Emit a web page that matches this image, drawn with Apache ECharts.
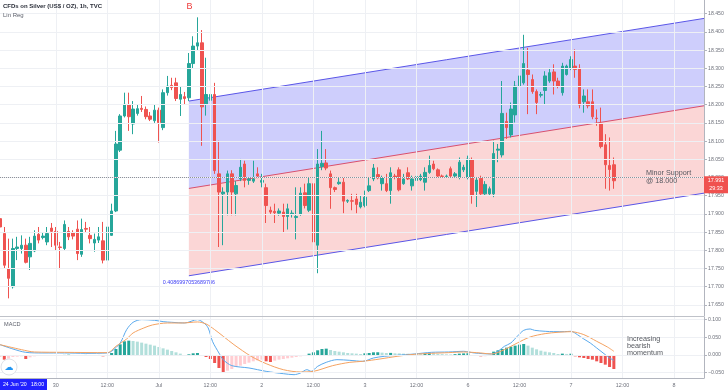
<!DOCTYPE html>
<html><head><meta charset="utf-8">
<script src="https://cdn.jsdelivr.net/npm/echarts@6/dist/echarts.min.js"></script>
<style>html,body{margin:0;padding:0;background:#fff}#c{width:728px;height:391px}</style>
</head><body><div id="c"></div>
<script>
// ---------- data ----------
const firstBar = -13; // hourly bar index of the first candle (0 = 30 Jun 00:00)
const opens = [17.887,17.846,17.750,17.700,17.805,17.805,17.814,17.782,17.798,17.844,17.835,17.823,17.861,
17.852,17.809,17.805,17.852,17.849,17.858,17.789,17.860,17.841,17.820,17.828,17.826,17.773,17.841,17.908,18.075,18.169,18.199,18.147,18.176,18.190,18.187,18.169,18.156,18.185,18.137,18.233,18.253,18.260,18.215,18.222,18.219,18.313,18.361,18.370,18.201,18.212,18.228,18.010,17.955,17.960,18.010,17.955,17.996,18.037,17.992,
17.990,18.010,17.987,17.972,17.910,17.907,17.902,17.905,17.893,17.899,17.890,17.899,17.958,17.910,17.983,17.814,18.030,18.040,18.010,17.972,17.983,17.987,17.935,17.936,17.941,17.919,17.923,17.964,17.996,18.008,17.983,17.983,17.964,18.004,18.021,17.983,18.013,17.977,17.992,17.994,17.987,18.014,18.037,18.021,18.004,18.003,18.024,18.004,18.001,18.021,18.001,18.048,17.962,17.998,17.955,17.955,17.955,18.075,18.062,18.154,18.117,18.172,18.251,18.260,18.295,18.269,18.236,18.226,18.239,18.265,18.290,18.265,18.233,18.283,18.301,18.306,18.300,18.208,18.208,18.208,18.163,18.147,18.090,18.033,18.035];
const closes = [17.864,17.759,17.723,17.805,17.809,17.814,17.767,17.819,17.839,17.828,17.839,17.846,17.852,
17.814,17.808,17.871,17.837,17.839,17.791,17.857,17.858,17.832,17.830,17.837,17.773,17.864,17.908,18.092,18.169,18.201,18.167,18.188,18.189,18.187,18.167,18.160,18.185,18.151,18.233,18.251,18.247,18.217,18.228,18.217,18.313,18.361,18.370,18.194,18.228,18.228,18.019,17.960,17.960,18.010,17.960,17.978,18.028,17.992,17.996,
17.996,18.004,17.992,17.923,17.905,17.903,17.908,17.893,17.914,17.902,17.893,17.957,17.923,17.983,17.823,18.037,18.039,18.026,17.972,17.967,17.987,17.935,17.937,17.935,17.926,17.932,17.946,17.977,18.026,17.999,17.999,17.964,18.013,18.000,17.966,17.996,17.996,17.996,18.003,18.004,18.014,18.033,18.024,18.004,18.003,18.004,18.004,18.010,18.042,18.028,18.051,17.951,17.993,17.955,17.981,17.969,18.066,18.078,18.176,18.137,18.188,18.251,18.279,18.313,18.283,18.236,18.206,18.228,18.279,18.288,18.265,18.251,18.306,18.306,18.324,18.297,18.199,18.224,18.197,18.167,18.162,18.085,18.035,18.022,17.991];
const lows = [17.855,17.750,17.668,17.695,17.773,17.791,17.764,17.746,17.795,17.819,17.830,17.814,17.809,
17.800,17.748,17.800,17.828,17.830,17.773,17.782,17.850,17.819,17.796,17.820,17.764,17.770,17.840,17.905,18.070,18.165,18.128,18.119,18.170,18.180,18.160,18.155,18.150,18.096,18.130,18.225,18.240,18.210,18.169,18.201,18.210,18.300,18.350,18.087,18.170,18.083,18.010,17.809,17.814,17.896,17.896,17.896,17.990,17.973,17.980,
17.985,17.998,17.973,17.875,17.900,17.875,17.895,17.848,17.857,17.890,17.830,17.895,17.915,17.905,17.782,17.737,18.020,18.020,17.914,17.960,17.980,17.902,17.930,17.910,17.902,17.915,17.918,17.960,17.990,17.995,17.964,17.960,17.928,17.995,17.962,17.980,17.993,17.964,17.990,17.990,17.964,18.010,18.020,18.000,18.000,18.000,18.000,18.000,17.995,18.015,17.995,17.928,17.919,17.950,17.950,17.950,17.946,18.042,18.055,18.106,18.110,18.151,18.245,18.255,18.174,18.230,18.174,18.220,18.201,18.260,18.228,18.245,18.225,18.280,18.295,18.274,18.190,18.178,18.190,18.160,18.142,18.080,17.969,17.964,17.969];
const highs = [17.928,17.864,17.832,17.832,17.837,17.841,17.832,17.837,17.855,17.864,17.850,17.864,17.875,
17.864,17.823,17.882,17.864,17.855,17.882,17.887,17.878,17.864,17.846,17.864,17.878,17.878,17.928,18.128,18.174,18.233,18.233,18.210,18.200,18.224,18.195,18.180,18.200,18.192,18.242,18.279,18.274,18.274,18.251,18.235,18.342,18.388,18.440,18.405,18.329,18.324,18.260,18.101,17.973,18.019,18.020,17.990,18.051,18.046,18.000,
18.046,18.028,18.010,17.983,17.920,17.928,17.915,17.928,17.928,17.910,17.973,17.973,17.983,18.001,18.001,18.078,18.128,18.078,18.019,17.975,18.001,18.001,17.940,17.955,17.955,17.951,17.964,18.001,18.037,18.028,18.005,18.010,18.028,18.010,18.028,18.010,18.028,18.005,18.010,18.010,18.028,18.060,18.046,18.025,18.008,18.008,18.030,18.015,18.055,18.035,18.060,18.055,18.001,18.005,17.990,17.975,18.101,18.092,18.265,18.178,18.206,18.265,18.283,18.392,18.356,18.283,18.242,18.235,18.292,18.301,18.311,18.274,18.315,18.310,18.333,18.352,18.311,18.242,18.242,18.242,18.187,18.192,18.119,18.110,18.055];

// MACD histogram, one value per candle
const macdHist = [-0.0038,-0.0132,-0.0104,-0.0057,-0.0047,-0.0038,-0.0113,-0.0066,-0.0038,-0.0028,-0.0019,-0.0009,-0.0009,
-0.0010,-0.0019,0.0003,0.0009,0.0002,-0.0019,-0.0004,0.0002,-0.0009,-0.0007,0.0001,-0.0038,-0.0012,0.0057,0.0170,0.0301,0.0386,0.0405,0.0396,0.0377,0.0349,0.0320,0.0292,0.0264,0.0226,0.0188,0.0151,0.0113,0.0075,0.0038,-0.0019,0.0019,0.0047,0.0057,-0.0019,-0.0057,-0.0113,-0.0226,-0.0367,-0.0490,-0.0443,-0.0396,-0.0339,-0.0301,-0.0254,-0.0217,
-0.0179,-0.0151,-0.0132,-0.0179,-0.0198,-0.0160,-0.0132,-0.0113,-0.0094,-0.0075,-0.0057,-0.0038,-0.0009,0.0038,0.0075,0.0132,0.0170,0.0179,0.0141,0.0113,0.0094,0.0075,0.0057,0.0047,0.0038,0.0028,0.0047,0.0057,0.0075,0.0077,0.0066,0.0057,0.0059,0.0047,0.0045,0.0038,0.0036,0.0028,0.0026,0.0025,0.0047,0.0049,0.0038,0.0028,0.0026,0.0019,0.0017,0.0024,0.0038,0.0045,0.0049,-0.0019,-0.0028,-0.0038,-0.0036,-0.0028,0.0094,0.0132,0.0170,0.0207,0.0236,0.0264,0.0292,0.0311,0.0264,0.0207,0.0160,0.0122,0.0094,0.0075,0.0057,0.0028,0.0038,0.0030,0.0036,-0.0038,-0.0066,-0.0085,-0.0113,-0.0132,-0.0179,-0.0226,-0.0273,-0.0339,-0.0396];

// MACD line and signal line, read at bar positions
const macdLineK = [-13,-10,-7,-3,2,7,12,13,15,16.5,18,20,23,25,27,30,33,34.5,35.5,36.5,38,39,41,45,49,53,55.5,57,58.5,59.5,61,63,65.5,68.5,71.5,74,76.5,79.5,83.5,87.5,91.5,95,97.5,101.5,103,104.5,106,107.5,109,110.5,111.5,114,116,118.5,120,121.5,123,124.5,126,128,129,130];
const macdLineV = [0.0292,0.0170,0.0075,0.0057,0.0057,0.0047,0.0057,0.0104,0.0339,0.0716,0.0923,0.0999,0.0980,0.0942,0.0923,0.0904,0.0999,0.0904,0.0763,0.0386,0.0057,-0.0132,-0.0301,-0.0367,-0.0462,-0.0528,-0.0556,-0.0509,-0.0415,-0.0462,-0.0320,-0.0207,-0.0132,-0.0151,-0.0179,-0.0085,-0.0038,-0.0009,0.0028,0.0075,0.0085,0.0104,0.0057,0.0028,0.0104,0.0245,0.0339,0.0528,0.0697,0.0735,0.0697,0.0669,0.0659,0.0659,0.0669,0.0575,0.0452,0.0339,0.0198,0.0009,-0.0085,-0.0151];
const signalK = [-13,-8,-5,2,12,14,16.5,18,20.5,22.5,26,29.5,33,35,37,39,41.5,45.5,49,53,57,60,64.5,68.5,71.5,75.5,79.5,83.5,87.5,91.5,95,99,101.5,104.5,107.5,110.5,114,117,120,123,126,128.5,130];
const signalV = [0.0292,0.0151,0.0085,0.0075,0.0066,0.0245,0.0452,0.0622,0.0763,0.0848,0.0904,0.0904,0.0933,0.0876,0.0716,0.0528,0.0292,-0.0038,-0.0245,-0.0415,-0.0480,-0.0462,-0.0301,-0.0207,-0.0179,-0.0113,-0.0038,0.0019,0.0047,0.0066,0.0085,0.0057,0.0028,0.0151,0.0339,0.0509,0.0603,0.0641,0.0659,0.0575,0.0386,0.0226,0.0104];

// Linear regression channel (bar positions and prices at both ends)
const chX = [31, 151];
const chUpper = [18.210, 18.437];
const chMid = [17.970, 18.197];
const chLower = [17.730, 17.957];
const regLabel = '0.4086997053689786';

const supportLevel = 18.000;
const lastPrice = 17.991;
const countdown = '29:33';

const priceTicks = [17.65,17.70,17.75,17.80,17.85,17.90,17.95,18.00,18.05,18.10,18.15,18.20,18.25,18.30,18.35,18.40,18.45];
const macdTicks = [-0.05, 0, 0.05, 0.10];
const timeTickPos = [0,12,24,36,48,60,72,84,96,108,120,132,144];
const timeTickLabels = ['30','12:00','Jul','12:00','2','12:00','3','12:00','6','12:00','7','12:00','8'];

// ---------- chart ----------
const FONT = 'Liberation Sans';
const AX = '#b2b5be', LBL = '#6f727c', GRIDC = '#eef0f4';
const XMIN = -13, XMAX = 151;
const candles = opens.map((o, i) => [firstBar + i, o, closes[i], lows[i], highs[i]]);
const histData = macdHist.map((v, i) => {
  const prev = i > 0 ? macdHist[i - 1] : v;
  let c;
  if (v >= 0) c = v >= prev ? '#26a69a' : '#b2dfdb';
  else c = v <= prev ? '#ef5350' : '#ffcdd2';
  return { value: [firstBar + i, v], itemStyle: { color: c } };
});
const gridLineMark = (key, vals) => ({
  silent: true, symbol: 'none', label: { show: false }, emphasis: { disabled: true },
  lineStyle: { color: GRIDC, type: 'solid', width: 1 },
  data: vals.map(v => ({ [key]: v }))
});

const chart = echarts.init(document.getElementById('c'), null, { renderer: 'canvas' });
chart.setOption({
  animation: false,
  backgroundColor: '#ffffff',
  grid: [
    { left: 0, right: 24, top: 0, height: 316 },
    { left: 0, right: 24, top: 317, height: 61 },
    { left: 0, right: 24, top: 0, height: 378 }
  ],
  xAxis: [
    { gridIndex: 0, type: 'value', min: XMIN, max: XMAX, show: false, splitLine: { show: false } },
    { gridIndex: 1, type: 'value', min: XMIN, max: XMAX, show: false, splitLine: { show: false } },
    { gridIndex: 2, type: 'value', min: XMIN, max: XMAX, position: 'bottom',
      axisLine: { show: true, onZero: false, lineStyle: { color: AX } },
      axisTick: { show: false },
      axisLabel: { customValues: timeTickPos, showMinLabel: true, showMaxLabel: true, fontSize: 5.4, color: LBL, fontFamily: FONT, margin: 5,
        formatter: v => { const i = timeTickPos.indexOf(Math.round(v)); return i >= 0 ? timeTickLabels[i] : ''; } },
      splitLine: { show: false } }
  ],
  yAxis: [
    { gridIndex: 0, type: 'value', position: 'right', min: 17.6195, max: 18.4876,
      axisLine: { show: true, onZero: false, lineStyle: { color: AX } },
      axisTick: { show: true, length: 3, customValues: priceTicks, lineStyle: { color: AX } },
      axisLabel: { customValues: priceTicks, showMinLabel: true, showMaxLabel: true, fontSize: 5.2, color: LBL, fontFamily: FONT, margin: 4,
        formatter: v => v.toFixed(3) },
      splitLine: { show: false } },
    { gridIndex: 1, type: 'value', position: 'right', min: -0.065, max: 0.1073,
      axisLine: { show: true, onZero: false, lineStyle: { color: AX } },
      axisTick: { show: true, length: 3, customValues: macdTicks, lineStyle: { color: AX } },
      axisLabel: { customValues: macdTicks, showMinLabel: true, showMaxLabel: true, fontSize: 5.2, color: LBL, fontFamily: FONT, margin: 4,
        formatter: v => (v < -1e-9 ? '\u2212' : '') + Math.abs(v).toFixed(3) },
      splitLine: { show: false } },
    { gridIndex: 2, type: 'value', show: false, min: 0, max: 1, axisLine: { onZero: false }, splitLine: { show: false } }
  ],
  series: [
    { type: 'line', xAxisIndex: 2, yAxisIndex: 2, data: [[XMIN, -5]], showSymbol: false, silent: true, z: 0,
      lineStyle: { opacity: 0 }, markLine: gridLineMark('xAxis', timeTickPos) },
    { type: 'line', xAxisIndex: 0, yAxisIndex: 0, data: [[XMIN, 0]], showSymbol: false, silent: true, z: 0,
      lineStyle: { opacity: 0 }, markLine: gridLineMark('yAxis', priceTicks) },
    { type: 'line', xAxisIndex: 1, yAxisIndex: 1, data: [[XMIN, 5]], showSymbol: false, silent: true, z: 0,
      lineStyle: { opacity: 0 }, markLine: gridLineMark('yAxis', macdTicks) },
    { type: 'custom', xAxisIndex: 0, yAxisIndex: 0, z: 1, silent: true,
      data: [[chX[0], chMid[0]]],
      renderItem: (params, api) => {
        const P = (x, y) => api.coord([x, y]);
        const uL = P(chX[0], chUpper[0]), uR = P(chX[1], chUpper[1]);
        const mL = P(chX[0], chMid[0]), mR = P(chX[1], chMid[1]);
        const lL = P(chX[0], chLower[0]), lR = P(chX[1], chLower[1]);
        return { type: 'group', children: [
          { type: 'polygon', shape: { points: [uL, uR, mR, mL] }, style: { fill: 'rgba(80,80,245,0.28)' } },
          { type: 'polygon', shape: { points: [mL, mR, lR, lL] }, style: { fill: 'rgba(240,90,90,0.25)' } },
          { type: 'polyline', shape: { points: [uL, uR] }, style: { stroke: '#5a56e8', lineWidth: 1, fill: null } },
          { type: 'polyline', shape: { points: [mL, mR] }, style: { stroke: '#d9506e', lineWidth: 1, fill: null } },
          { type: 'polyline', shape: { points: [lL, lR] }, style: { stroke: '#5a56e8', lineWidth: 1, fill: null } },
          { type: 'text', x: lL[0], y: lL[1] + 4, style: { text: regLabel, fill: '#3d3df5', fontSize: 5.4, fontFamily: FONT, align: 'center', verticalAlign: 'top' } }
        ] };
      } },
    { type: 'candlestick', xAxisIndex: 0, yAxisIndex: 0, z: 3,
      dimensions: ['k', 'open', 'close', 'lowest', 'highest'],
      encode: { x: 0, y: [1, 2, 3, 4] },
      data: candles, barWidth: 3,
      itemStyle: { color: '#26a69a', color0: '#ef5350', borderColor: '#26a69a', borderColor0: '#ef5350', borderWidth: 1 },
      markLine: { silent: true, symbol: 'none', label: { show: false },
        lineStyle: { color: '#8f929a', type: 'dotted', width: 1 }, data: [{ yAxis: supportLevel }] } },
    { type: 'bar', xAxisIndex: 1, yAxisIndex: 1, data: histData, barWidth: 3, z: 2 },
    { type: 'line', xAxisIndex: 1, yAxisIndex: 1, data: macdLineK.map((k, i) => [k, macdLineV[i]]),
      smooth: 0.3, showSymbol: false, lineStyle: { color: '#5aa9ec', width: 1 }, z: 4 },
    { type: 'line', xAxisIndex: 1, yAxisIndex: 1, data: signalK.map((k, i) => [k, signalV[i]]),
      smooth: 0.3, showSymbol: false, lineStyle: { color: '#f4a261', width: 1 }, z: 4 }
  ]
});

const yp = chart.convertToPixel({ yAxisIndex: 0 }, lastPrice);
chart.setOption({
  graphic: [
    { type: 'line', shape: { x1: 0, y1: 316.5, x2: 704, y2: 316.5 }, style: { stroke: '#bfc2c9', lineWidth: 1.2 }, z: 50 },
    { type: 'text', left: 3, top: 3, style: { text: 'CFDs on Silver (US$ / OZ), 1h, TVC', fill: '#2a2e39', fontSize: 6, fontWeight: 'bold', fontFamily: FONT }, z: 50 },
    { type: 'text', left: 3, top: 12, style: { text: 'Lin Reg', fill: '#5d606b', fontSize: 6, fontFamily: FONT }, z: 50 },
    { type: 'text', x: 189.5, y: 7, style: { text: 'B', fill: '#ef3b3b', fontSize: 9, fontFamily: FONT, align: 'center', verticalAlign: 'middle' }, z: 50 },
    { type: 'text', x: 646, y: 169, style: { text: 'Minor Support\n@ 18.000', fill: '#55585f', fontSize: 7.2, lineHeight: 8, fontFamily: FONT }, z: 50 },
    { type: 'text', x: 627, y: 336, style: { text: 'Increasing\nbearish\nmomentum', fill: '#55585f', fontSize: 7.2, lineHeight: 7, fontFamily: FONT }, z: 50 },
    { type: 'text', left: 4, top: 321, style: { text: 'MACD', fill: '#5d606b', fontSize: 5.6, fontFamily: FONT }, z: 50 },
    { type: 'rect', shape: { x: 704, y: yp - 4.5, width: 24, height: 17 }, style: { fill: '#f0514f' }, z: 60 },
    { type: 'text', x: 716, y: yp, style: { text: lastPrice.toFixed(3), fill: '#fff', fontSize: 5.4, fontFamily: FONT, align: 'center', verticalAlign: 'middle' }, z: 61 },
    { type: 'text', x: 716, y: yp + 8, style: { text: countdown, fill: '#fff', fontSize: 5.4, fontFamily: FONT, align: 'center', verticalAlign: 'middle' }, z: 61 },
    { type: 'rect', shape: { x: 0, y: 379, width: 47, height: 11 }, style: { fill: '#2121ff' }, z: 60 },
    { type: 'text', x: 23.5, y: 384.5, style: { text: "24 Jun '20   18:00", fill: '#fff', fontSize: 5.2, fontFamily: FONT, align: 'center', verticalAlign: 'middle' }, z: 61 },
    { type: 'circle', shape: { cx: 9, cy: 367, r: 8 }, style: { fill: '#fff', stroke: '#dfe2e8', lineWidth: 1 }, z: 60 },
    { type: 'text', x: 9, y: 367.5, style: { text: '\u2601', fill: '#2196f3', fontSize: 9, fontFamily: 'DejaVu Sans', align: 'center', verticalAlign: 'middle' }, z: 61 }
  ]
});
</script>
</body></html>
